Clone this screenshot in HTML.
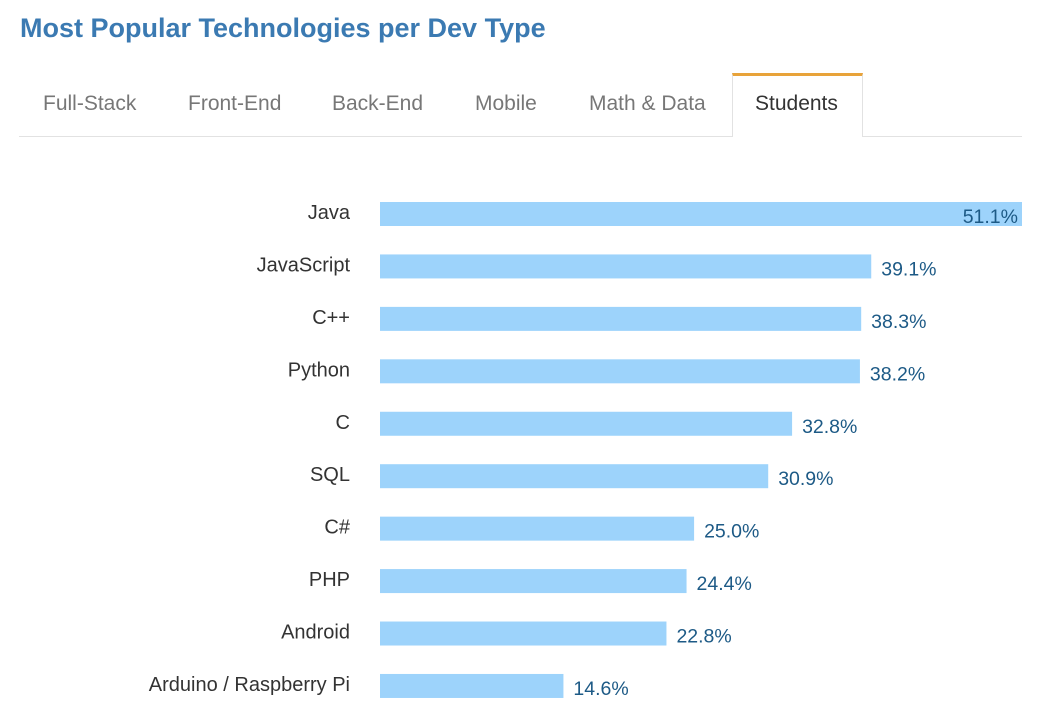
<!DOCTYPE html>
<html><head><meta charset="utf-8"><style>
body{margin:0;width:1061px;height:728px;background:#fff;font-family:"Liberation Sans",sans-serif;position:relative;overflow:hidden}
.title{position:absolute;left:20px;top:13px;font-size:27px;font-weight:bold;color:#3b7ab2;letter-spacing:0px}
.tabline{position:absolute;left:19px;top:136px;width:1003px;height:1px;background:#e2e2e2}
.tab{position:absolute;top:92px;font-size:21px;color:#777}
.active{position:absolute;left:732px;top:73px;width:131px;height:64px;border-left:1px solid #e2e2e2;border-right:1px solid #e2e2e2;border-top:3px solid #e8a33a;background:#fff;box-sizing:border-box}
</style></head><body>
<div class="title">Most Popular Technologies per Dev Type</div>
<div class="tabline"></div>
<div class="active"></div>
<div class="tab" style="left:43px">Full-Stack</div>
<div class="tab" style="left:188px">Front-End</div>
<div class="tab" style="left:332px">Back-End</div>
<div class="tab" style="left:475px">Mobile</div>
<div class="tab" style="left:589px">Math &amp; Data</div>
<div class="tab" style="left:755px;color:#333">Students</div>
<svg id="chart" width="1061" height="728" style="position:absolute;left:0;top:0"></svg>
<script>
const categories=["Java","JavaScript","C++","Python","C","SQL","C#","PHP","Android","Arduino / Raspberry Pi"];
const values=[51.1,39.1,38.3,38.2,32.8,30.9,25.0,24.4,22.8,14.6];
const svg=document.getElementById('chart');
const NS='http://www.w3.org/2000/svg';
const x0=380,x1=1022,maxV=51.1;
const xs=v=>x0+(v/maxV)*(x1-x0);
const ys=i=>202+i*52.44;
categories.forEach((c,i)=>{
  const y=ys(i);
  const r=document.createElementNS(NS,'rect');
  r.setAttribute('x',x0);r.setAttribute('y',y);r.setAttribute('width',xs(values[i])-x0);r.setAttribute('height',24);r.setAttribute('fill','#9dd3fb');
  
  
  svg.appendChild(r);
  const l=document.createElementNS(NS,'text');
  l.setAttribute('x',350);l.setAttribute('y',y+17);l.setAttribute('text-anchor','end');l.setAttribute('font-size','20');l.setAttribute('fill','#333');
  l.textContent=c;
  
  
  svg.appendChild(l);
  const t=document.createElementNS(NS,'text');
  const inside=xs(values[i])>990;
  t.setAttribute('x',inside?xs(values[i])-4:xs(values[i])+10);
  t.setAttribute('text-anchor',inside?'end':'start');
  t.setAttribute('y',y+21);t.setAttribute('font-size','19.5');t.setAttribute('fill','#1d5a86');
  t.textContent=values[i].toFixed(1)+'%';
  
  
  svg.appendChild(t);
});
</script>
</body></html>
